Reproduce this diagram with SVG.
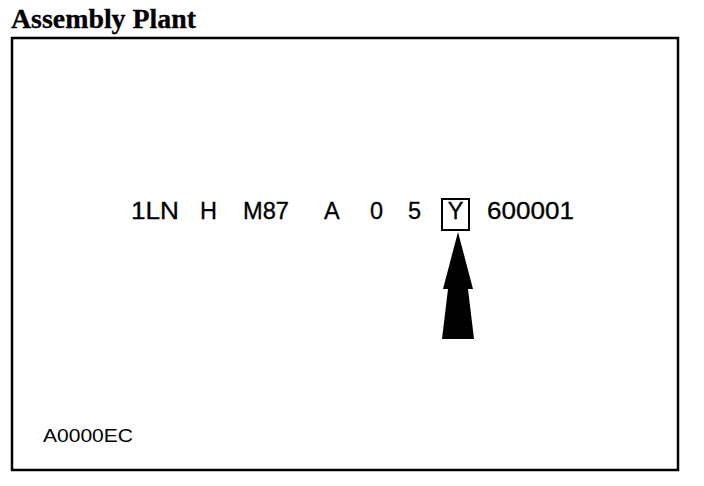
<svg xmlns="http://www.w3.org/2000/svg" width="704" height="486" viewBox="0 0 704 486">
<style>
.t{font-family:"Liberation Sans",Arial,sans-serif;font-size:23.5px;fill:#000;stroke:#000;stroke-width:0.3}
.title{font-family:"Liberation Serif","Times New Roman",serif;font-weight:bold;font-size:27px;fill:#000;stroke:#000;stroke-width:0.3}
.small{font-family:"Liberation Sans",Arial,sans-serif;font-size:18px;fill:#000}
</style>
<rect width="704" height="486" fill="#fff"/>
<g id="title"><text class="title" x="11" y="28" textLength="185" lengthAdjust="spacingAndGlyphs">Assembly Plant</text></g>
<g id="frame"><rect x="12" y="38" width="666" height="432" fill="none" stroke="#000" stroke-width="2.5"/></g>
<g id="code">
<text class="t" x="131" y="219" textLength="48" lengthAdjust="spacingAndGlyphs">1LN</text>
<text class="t" x="200" y="219">H</text>
<text class="t" x="243" y="219" textLength="46" lengthAdjust="spacingAndGlyphs">M87</text>
<text class="t" x="324" y="219">A</text>
<text class="t" x="370" y="219">0</text>
<text class="t" x="408" y="219">5</text>
<text class="t" x="487" y="219" textLength="87" lengthAdjust="spacingAndGlyphs">600001</text>
</g>
<g id="highlight">
<rect x="442" y="199" width="27" height="31" fill="none" stroke="#000" stroke-width="2"/>
<text class="t" x="455.5" y="219" text-anchor="middle">Y</text>
</g>
<g id="connectors">
<polygon points="458,232 473,289 468,289 474,339 442,339 448,289 443,289" fill="#000"/>
</g>
<g id="label"><text class="small" x="43" y="442" textLength="90" lengthAdjust="spacingAndGlyphs">A0000EC</text></g>
</svg>
